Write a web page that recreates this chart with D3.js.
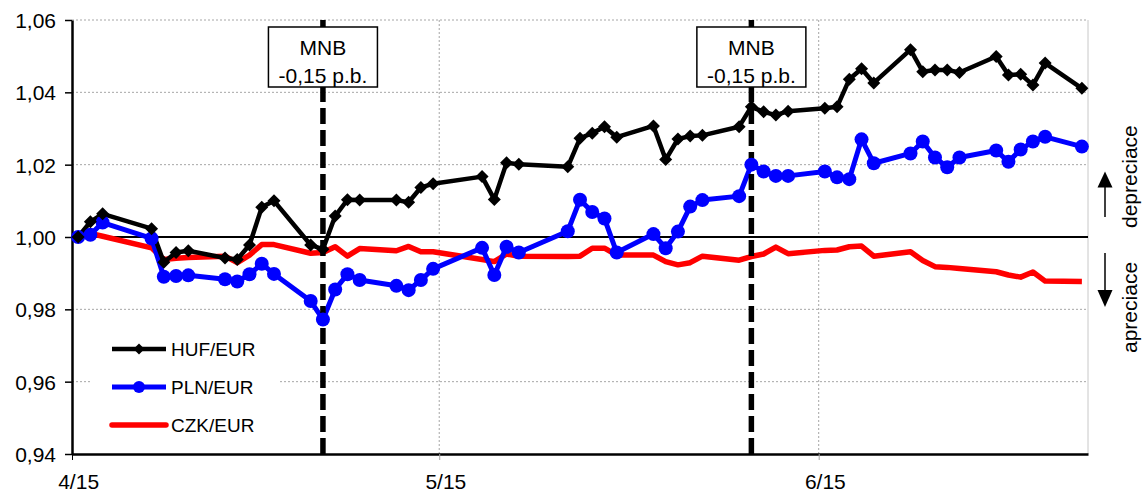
<!DOCTYPE html>
<html>
<head>
<meta charset="utf-8">
<script src="https://cdn.jsdelivr.net/npm/d3@7"></script>
<style>
  body { margin: 0; background: #fff; }
  svg { display: block; }
  text { font-family: "Liberation Sans", Arial, Helvetica, sans-serif; fill: #000; }
</style>
</head>
<body>
<svg id="chart" width="1148" height="493"></svg>
<script>
// Business days of the CNB fixing, April 1 – June 22, 2015
const dates = [
  "2015-04-01","2015-04-02","2015-04-03","2015-04-07","2015-04-08","2015-04-09","2015-04-10",
  "2015-04-13","2015-04-14","2015-04-15","2015-04-16","2015-04-17","2015-04-20","2015-04-21",
  "2015-04-22","2015-04-23","2015-04-24","2015-04-27","2015-04-28","2015-04-29","2015-04-30",
  "2015-05-04","2015-05-05","2015-05-06","2015-05-07","2015-05-11","2015-05-12","2015-05-13",
  "2015-05-14","2015-05-15","2015-05-18","2015-05-19","2015-05-20","2015-05-21","2015-05-22",
  "2015-05-25","2015-05-26","2015-05-27","2015-05-28","2015-05-29",
  "2015-06-01","2015-06-02","2015-06-03","2015-06-04","2015-06-05","2015-06-08","2015-06-09",
  "2015-06-10","2015-06-11","2015-06-12","2015-06-15","2015-06-16","2015-06-17","2015-06-18",
  "2015-06-19","2015-06-22"
];

// Exchange rates indexed to April 1 = 1
const huf = [
  1.0000,1.0042,1.0064,1.0023,0.9930,0.9957,0.9962,
  0.9942,0.9938,0.9978,1.0082,1.0100,0.9978,0.9966,
  1.0058,1.0103,1.0102,1.0102,1.0096,1.0137,1.0147,
  1.0167,1.0104,1.0205,1.0201,1.0194,1.0273,1.0287,
  1.0305,1.0276,1.0307,1.0214,1.0271,1.0279,1.0281,
  1.0305,1.0360,1.0346,1.0337,1.0348,
  1.0356,1.0360,1.0436,1.0465,1.0426,1.0518,1.0457,
  1.0462,1.0462,1.0455,1.0499,1.0448,1.0450,1.0420,
  1.0481,1.0411
];
const pln = [
  1.0000,1.0006,1.0040,0.9996,0.9890,0.9892,0.9894,
  0.9883,0.9877,0.9897,0.9926,0.9898,0.9823,0.9772,
  0.9855,0.9897,0.9881,0.9865,0.9853,0.9881,0.9912,
  0.9970,0.9895,0.9973,0.9957,1.0016,1.0103,1.0069,
  1.0051,0.9957,1.0008,0.9969,1.0015,1.0084,1.0102,
  1.0113,1.0200,1.0181,1.0169,1.0169,
  1.0181,1.0165,1.0160,1.0270,1.0204,1.0231,1.0264,
  1.0220,1.0193,1.0220,1.0239,1.0208,1.0242,1.0264,
  1.0277,1.0250
];
const czk = [
  1.0000,1.0010,1.0002,0.9970,0.9938,0.9941,0.9943,
  0.9947,0.9929,0.9950,0.9979,0.9979,0.9955,0.9957,
  0.9973,0.9947,0.9968,0.9962,0.9974,0.9959,0.9959,
  0.9938,0.9932,0.9953,0.9947,0.9946,0.9947,0.9969,
  0.9969,0.9950,0.9950,0.9932,0.9923,0.9929,0.9947,
  0.9936,0.9946,0.9953,0.9972,0.9954,
  0.9963,0.9964,0.9973,0.9975,0.9947,0.9959,0.9935,
  0.9918,0.9916,0.9913,0.9904,0.9895,0.9889,0.9903,
  0.9878,0.9877
];

const seriesNames = ["HUF/EUR", "PLN/EUR", "CZK/EUR"];
const yTicks = [0.94, 0.96, 0.98, 1.00, 1.02, 1.04, 1.06];
const xTickDates = ["2015-04-01", "2015-05-01", "2015-06-01"];
const xTickLabels = ["4/15", "5/15", "6/15"];
const mnbDates = ["2015-04-21", "2015-05-26"];
const mnbText = ["MNB", "-0,15 p.b."];
const sideLabels = ["depreciace", "apreciace"];

const parse = d3.utcParse("%Y-%m-%d");
const svg = d3.select("#chart");
const plot = { left: 72, right: 1088, top: 20, bottom: 454 };

const x = d3.scaleUtc()
  .domain([parse("2015-04-01"), parse("2015-06-23")])
  .range([plot.left, plot.right]);
const y = d3.scaleLinear().domain([0.94, 1.06]).range([plot.bottom, plot.top]);

// each day is drawn at the centre of its slot
const dayMid = d => d3.utcHour.offset(d, 12);
const halfDay = x(dayMid(parse("2015-04-01"))) - x(parse("2015-04-01"));

const csLocale = d3.formatLocale({ decimal: ",", thousands: " ", grouping: [3], currency: ["", " Kč"] });
const fmt = csLocale.format(".2f");

const days = dates.map(parse);
const series = [
  { name: seriesNames[0], values: huf, color: "#000000", width: 4.5, marker: "diamond" },
  { name: seriesNames[1], values: pln, color: "#0000ff", width: 5, marker: "circle" },
  { name: seriesNames[2], values: czk, color: "#ff0000", width: 5.5, marker: null }
];

// gridlines
const grid = svg.append("g");
grid.selectAll("line.h")
  .data(yTicks.filter(v => v !== 0.94 && v !== 1.00))
  .join("line")
  .attr("x1", plot.left).attr("x2", plot.right)
  .attr("y1", d => y(d)).attr("y2", d => y(d))
  .attr("stroke", "#a6a6a6").attr("stroke-width", 1).attr("stroke-dasharray", "2,2");
grid.selectAll("line.v")
  .data(xTickDates.slice(1).map(parse))
  .join("line")
  .attr("x1", d => x(d)).attr("x2", d => x(d))
  .attr("y1", plot.top).attr("y2", plot.bottom)
  .attr("stroke", "#a6a6a6").attr("stroke-width", 1).attr("stroke-dasharray", "2,2");

// right frame edge
svg.append("line")
  .attr("x1", plot.right).attr("x2", plot.right)
  .attr("y1", plot.top).attr("y2", plot.bottom)
  .attr("stroke", "#c8c8c8").attr("stroke-width", 1);

// legend background hides the gridline underneath
svg.append("rect")
  .attr("x", 90).attr("y", 332).attr("width", 188).attr("height", 112)
  .attr("fill", "#fff");

// parity line at 1,00
svg.append("line")
  .attr("x1", plot.left).attr("x2", plot.right)
  .attr("y1", y(1)).attr("y2", y(1))
  .attr("stroke", "#000").attr("stroke-width", 2);

// axes
const yAxis = d3.axisLeft(y).tickValues(yTicks).tickFormat(fmt).tickSize(7).tickSizeOuter(0).tickPadding(9);
const gy = svg.append("g").attr("transform", `translate(${plot.left},0)`).call(yAxis);
gy.select(".domain").attr("stroke", "#000").attr("stroke-width", 2.5);
gy.selectAll(".tick line").attr("stroke", "#000").attr("stroke-width", 1.5);
gy.selectAll(".tick text").attr("font-size", 21).attr("dy", "0.36em")
  .attr("font-family", "'Liberation Sans', Arial, sans-serif");

const xAxis = d3.axisBottom(x).tickValues(xTickDates.map(parse))
  .tickFormat((d, i) => xTickLabels[i]).tickSize(6).tickSizeOuter(0).tickPadding(14);
const gx = svg.append("g").attr("transform", `translate(0,${plot.bottom})`).call(xAxis);
gx.select(".domain").attr("stroke", "#000").attr("stroke-width", 2.5);
gx.selectAll(".tick line").attr("stroke", (d, i) => i === 0 ? "#000" : "#a6a6a6").attr("stroke-width", 1);
gx.selectAll(".tick text").attr("font-size", 21).attr("x", halfDay)
  .attr("font-family", "'Liberation Sans', Arial, sans-serif");

// series lines
const line = d3.line().x((d, i) => x(dayMid(days[i]))).y(d => y(d));
const order = [2, 1, 0];
order.forEach(k => {
  const s = series[k];
  svg.append("path")
    .datum(s.values)
    .attr("d", line)
    .attr("fill", "none")
    .attr("stroke", s.color)
    .attr("stroke-width", s.width)
    .attr("stroke-linejoin", "round");
});

// MNB rate cut markers
const mnb = svg.append("g");
mnbDates.map(parse).forEach(d => {
  const cx = x(dayMid(d));
  mnb.append("line")
    .attr("x1", cx).attr("x2", cx)
    .attr("y1", plot.top).attr("y2", plot.bottom)
    .attr("stroke", "#000").attr("stroke-width", 5.5).attr("stroke-dasharray", "16,6");
  mnb.append("rect")
    .attr("x", cx - 54.5).attr("y", 27).attr("width", 109).attr("height", 60)
    .attr("fill", "#fff").attr("stroke", "#000").attr("stroke-width", 1.5);
  mnb.append("text").attr("x", cx).attr("y", 55).attr("text-anchor", "middle")
    .attr("font-size", 21).text(mnbText[0]);
  mnb.append("text").attr("x", cx).attr("y", 83).attr("text-anchor", "middle")
    .attr("font-size", 21).text(mnbText[1]);
});

// markers
const diamond = r => `M0,${-r}L${r},0L0,${r}L${-r},0Z`;
const plnG = svg.append("g");
plnG.selectAll("circle").data(pln).join("circle")
  .attr("cx", (d, i) => x(dayMid(days[i]))).attr("cy", d => y(d))
  .attr("r", 7).attr("fill", series[1].color);
const hufG = svg.append("g");
hufG.selectAll("path").data(huf).join("path")
  .attr("transform", (d, i) => `translate(${x(dayMid(days[i]))},${y(d)})`)
  .attr("d", diamond(6.5)).attr("fill", "#000");

// legend
const legendY = [349, 387, 425];
const leg = svg.append("g");
series.forEach((s, i) => {
  const g = leg.append("g").attr("transform", `translate(0,${legendY[i]})`);
  g.append("line").attr("x1", 112).attr("x2", 166).attr("y1", 0).attr("y2", 0)
    .attr("stroke", s.color).attr("stroke-width", s.width)
    .attr("stroke-linecap", s.marker ? "butt" : "round");
  if (s.marker === "circle") g.append("circle").attr("cx", 139).attr("cy", 0).attr("r", 6).attr("fill", s.color);
  if (s.marker === "diamond") g.append("path").attr("transform", "translate(139,0)").attr("d", diamond(5.5)).attr("fill", s.color);
  g.append("text").attr("x", 171).attr("y", 0).attr("dy", "0.36em").attr("font-size", 19).text(s.name);
});

// direction hints on the right
const ax = 1105;
const side = svg.append("g");
side.append("line").attr("x1", ax).attr("x2", ax).attr("y1", 217).attr("y2", 186)
  .attr("stroke", "#000").attr("stroke-width", 1.5);
side.append("path").attr("d", `M${ax},171.5L${ax + 7.5},187.5L${ax - 7.5},187.5Z`).attr("fill", "#000");
side.append("line").attr("x1", ax).attr("x2", ax).attr("y1", 253).attr("y2", 291)
  .attr("stroke", "#000").attr("stroke-width", 1.5);
side.append("path").attr("d", `M${ax},307L${ax + 7.5},290L${ax - 7.5},290Z`).attr("fill", "#000");
side.append("text").attr("transform", "translate(1137,228) rotate(-90)")
  .attr("font-size", 21).text(sideLabels[0]);
side.append("text").attr("transform", "translate(1137,353) rotate(-90)")
  .attr("font-size", 21).text(sideLabels[1]);
</script>
</body>
</html>
